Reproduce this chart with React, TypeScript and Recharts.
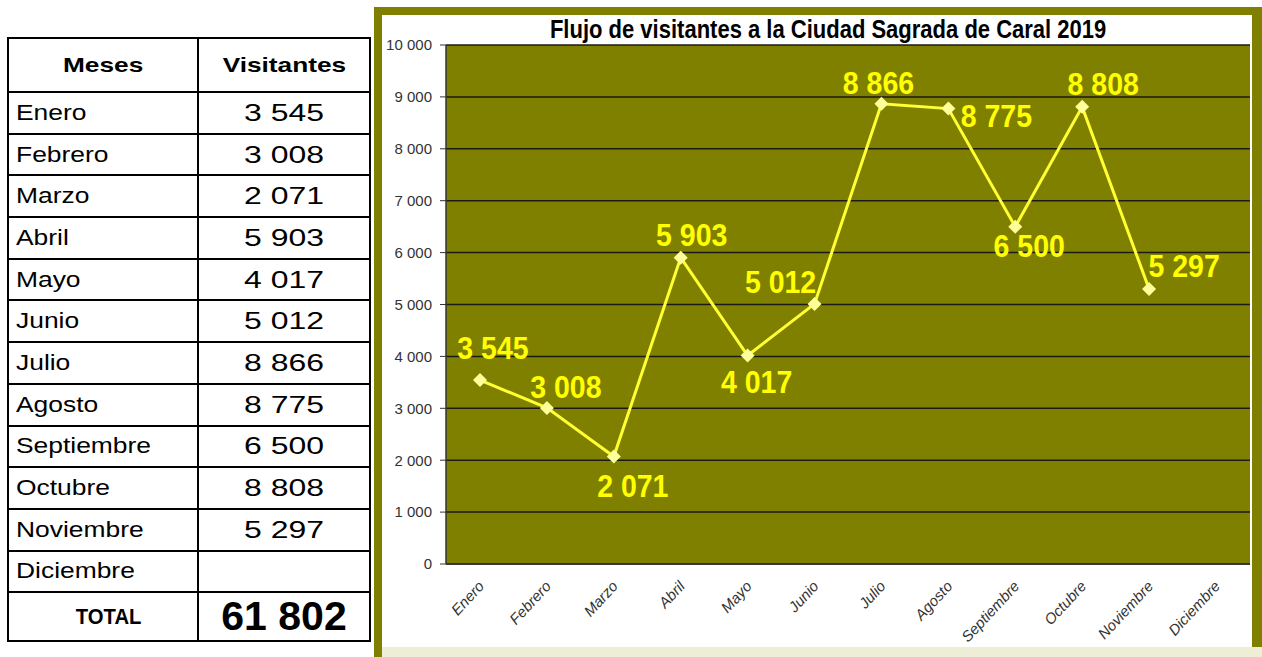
import { LineChart, Line, XAxis, YAxis, CartesianGrid } from 'recharts'

const months = [
  'Enero', 'Febrero', 'Marzo', 'Abril', 'Mayo', 'Junio',
  'Julio', 'Agosto', 'Septiembre', 'Octubre', 'Noviembre', 'Diciembre',
]
const visitors: (number | null)[] = [3545, 3008, 2071, 5903, 4017, 5012, 8866, 8775, 6500, 8808, 5297, null]
const yTicks = [0, 1000, 2000, 3000, 4000, 5000, 6000, 7000, 8000, 9000, 10000]
// where each value label sits relative to its point
const labelOffsets: [number, number][] = [
  [13, -32], [19, -21], [19, 30], [11, -23], [9, 27], [-34, -22],
  [-3, -21], [48, 7], [14, 19], [21, -23], [35, -23], [0, 0],
]

const title = 'Flujo de visitantes a la Ciudad Sagrada de Caral 2019'

const fmt = (n: number) => String(n).replace(/\B(?=(\d{3})+(?!\d))/g, ' ')
const total = visitors.reduce<number>((s, v) => s + (v ?? 0), 0)

const data = months.map((m, i) => ({ month: m, value: visitors[i] }))

const arial = '"Liberation Sans", Arial, sans-serif'

function XTick({ x, y, payload }: any) {
  const tx = x + 5
  const ty = y + 15
  return (
    <text
      x={tx}
      y={ty}
      transform={`rotate(-47 ${tx} ${ty})`}
      textAnchor="end"
      fontFamily={arial}
      fontStyle="italic"
      fontSize={15}
      fill="#333"
    >
      {payload.value}
    </text>
  )
}

function Diamond({ cx, cy, value }: any) {
  if (value == null || cx == null || cy == null) return null
  const r = 7
  return (
    <path
      d={`M${cx},${cy - r}L${cx + r},${cy}L${cx},${cy + r}L${cx - r},${cy}Z`}
      fill="#ffff99"
      stroke="none"
    />
  )
}

function ValueLabel({ x, y, value, index }: any) {
  if (value == null) return null
  const [dx, dy] = labelOffsets[index] ?? [0, -20]
  return (
    <text
      transform={`translate(${x + dx},${y + dy}) scale(0.92,1)`}
      dominantBaseline="central"
      textAnchor="middle"
      fontFamily={arial}
      fontWeight="bold"
      fontSize={31}
      fill="#ffff00"
    >
      {fmt(value)}
    </text>
  )
}

const cell = { border: '2px solid #000', padding: 0 }

function Stretch({ children, sx, origin }: { children: any; sx: number; origin: string }) {
  return (
    <span style={{ display: 'inline-block', transform: `scaleX(${sx})`, transformOrigin: origin, whiteSpace: 'nowrap' }}>
      {children}
    </span>
  )
}

function Table() {
  return (
    <table
      style={{
        position: 'absolute',
        left: 7,
        top: 37,
        width: 364,
        borderCollapse: 'collapse',
        fontFamily: arial,
        color: '#000',
      }}
    >
      <tbody>
        <tr style={{ height: 54 }}>
          <td style={{ ...cell, width: 188, textAlign: 'center', fontWeight: 'bold', fontSize: 21 }}>
            <Stretch sx={1.25} origin="center">Meses</Stretch>
          </td>
          <td style={{ ...cell, textAlign: 'center', fontWeight: 'bold', fontSize: 21 }}>
            <Stretch sx={1.25} origin="center">Visitantes</Stretch>
          </td>
        </tr>
        {months.map((m, i) => (
          <tr key={m} style={{ height: 41.7 }}>
            <td style={{ ...cell, paddingLeft: 7, fontSize: 22 }}>
              <Stretch sx={1.2} origin="left">{m}</Stretch>
            </td>
            <td style={{ ...cell, textAlign: 'center', fontSize: 24 }}>
              {visitors[i] != null && <Stretch sx={1.33} origin="center">{fmt(visitors[i] as number)}</Stretch>}
            </td>
          </tr>
        ))}
        <tr style={{ height: 46 }}>
          <td style={{ ...cell, textAlign: 'center', fontWeight: 'bold', fontSize: 22, paddingLeft: 12 }}>
            <Stretch sx={0.92} origin="center">TOTAL</Stretch>
          </td>
          <td style={{ ...cell, textAlign: 'center', fontWeight: 'bold', fontSize: 41 }}>{fmt(total)}</td>
        </tr>
      </tbody>
    </table>
  )
}

export default function App() {
  return (
    <div style={{ position: 'absolute', left: 0, top: 0, width: 1262, height: 657, background: '#fff', overflow: 'hidden' }}>
      <Table />
      <div style={{ position: 'absolute', left: 374, top: 7, width: 888, height: 650, background: '#808000' }} />
      <div style={{ position: 'absolute', left: 382, top: 647, width: 880, height: 10, background: '#eeeed6' }} />
      <div style={{ position: 'absolute', left: 382, top: 15, width: 870, height: 632, background: '#fff' }}>
        <div
          style={{
            position: 'absolute',
            left: 0,
            top: 1,
            width: 892,
            textAlign: 'center',
            fontFamily: arial,
            fontWeight: 'bold',
            fontSize: 25,
            lineHeight: '26px',
            color: '#000',
          }}
        >
          <Stretch sx={0.88} origin="center">{title}</Stretch>
        </div>
        <LineChart
          width={870}
          height={632}
          data={data}
          margin={{ top: 30, right: 2, left: 0, bottom: 0 }}
        >
          <CartesianGrid vertical={false} fill="#808000" stroke="#1a1a1a" strokeWidth={1.5} />
          <XAxis
            dataKey="month"
            interval={0}
            height={83}
            padding={{ left: 34, right: 34 }}
            tick={<XTick />}
            tickLine={false}
            axisLine={{ stroke: '#333', strokeWidth: 1.5 }}
          />
          <YAxis
            width={64}
            domain={[0, 10000]}
            ticks={yTicks}
            tickFormatter={fmt}
            tickSize={6}
            tickMargin={8}
            interval={0}
            tick={{ fontFamily: arial, fontSize: 15, fill: '#333' }}
            axisLine={{ stroke: '#333', strokeWidth: 1.5 }}
            tickLine={{ stroke: '#333' }}
          />
          <Line
            type="linear"
            dataKey="value"
            stroke="#ffff33"
            strokeWidth={3}
            dot={<Diamond />}
            activeDot={false}
            label={<ValueLabel />}
            isAnimationActive={false}
          />
        </LineChart>
      </div>
    </div>
  )
}
